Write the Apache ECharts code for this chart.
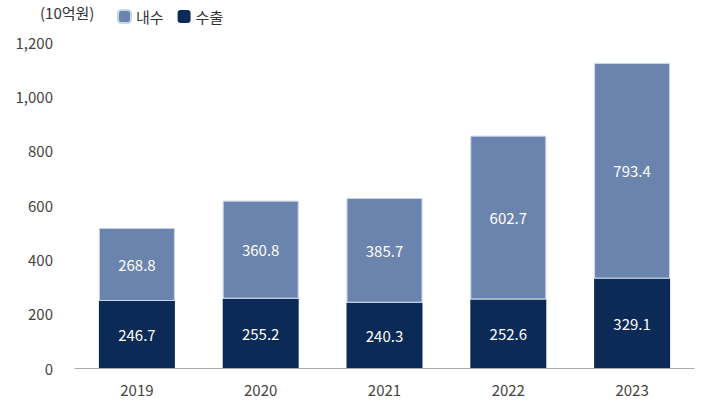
<!DOCTYPE html>
<html>
<head>
<meta charset="utf-8">
<script src="https://cdn.jsdelivr.net/npm/echarts@6/dist/echarts.min.js"></script>
<style>html,body{margin:0;height:100%;}</style>
</head>
<body>
<div id="main" style="width:702px;height:410px;"></div>
<script>
var years = ['2019', '2020', '2021', '2022', '2023'];
var domestic = [268.8, 360.8, 385.7, 602.7, 793.4];
var exports = [246.7, 255.2, 240.3, 252.6, 329.1];
var yTicks = [0, 200, 400, 600, 800, 1000, 1200];

var font = '"Noto Sans CJK KR", "Noto Sans", sans-serif';
var chart = echarts.init(document.getElementById('main'), null, {renderer: 'svg'});
var lbl = {show: true, color: '#fff', fontSize: 15, fontFamily: font,
    formatter: function (p) { return p.value.toFixed(1); }};
chart.setOption({
    animation: false,
    textStyle: {fontFamily: font},
    legend: {
        left: 112, top: 4, itemWidth: 13, itemHeight: 13, itemGap: 14,
        textStyle: {fontSize: 15, color: '#333'},
        data: ['내수', '수출']
    },
    graphic: [{type: 'text', left: 40, top: 5,
        style: {text: '(10억원)', fontSize: 15, fill: '#333', fontFamily: font}}],
    grid: {left: 75, right: 8, top: 42, bottom: 42},
    xAxis: {
        type: 'category', data: years,
        axisLine: {lineStyle: {color: '#aaa'}},
        axisTick: {show: false},
        axisLabel: {color: '#444', fontSize: 15, margin: 14}
    },
    yAxis: {
        type: 'value', min: 0, max: 1200, interval: 200,
        splitLine: {show: false},
        axisLine: {show: false}, axisTick: {show: false},
        axisLabel: {color: '#444', fontSize: 15, margin: 22,
            formatter: function (v) { return yTicks.indexOf(v) >= 0 ? v.toLocaleString('en-US') : ''; }}
    },
    series: [
        {name: '수출', type: 'bar', stack: 's', data: exports, barWidth: 76,
            itemStyle: {color: '#0c2a56'}, label: lbl},
        {name: '내수', type: 'bar', stack: 's', data: domestic, barWidth: 76,
            itemStyle: {color: '#6a84ae', borderColor: '#c9d6ea', borderWidth: 1}, label: lbl}
    ]
});
</script>
</body>
</html>
